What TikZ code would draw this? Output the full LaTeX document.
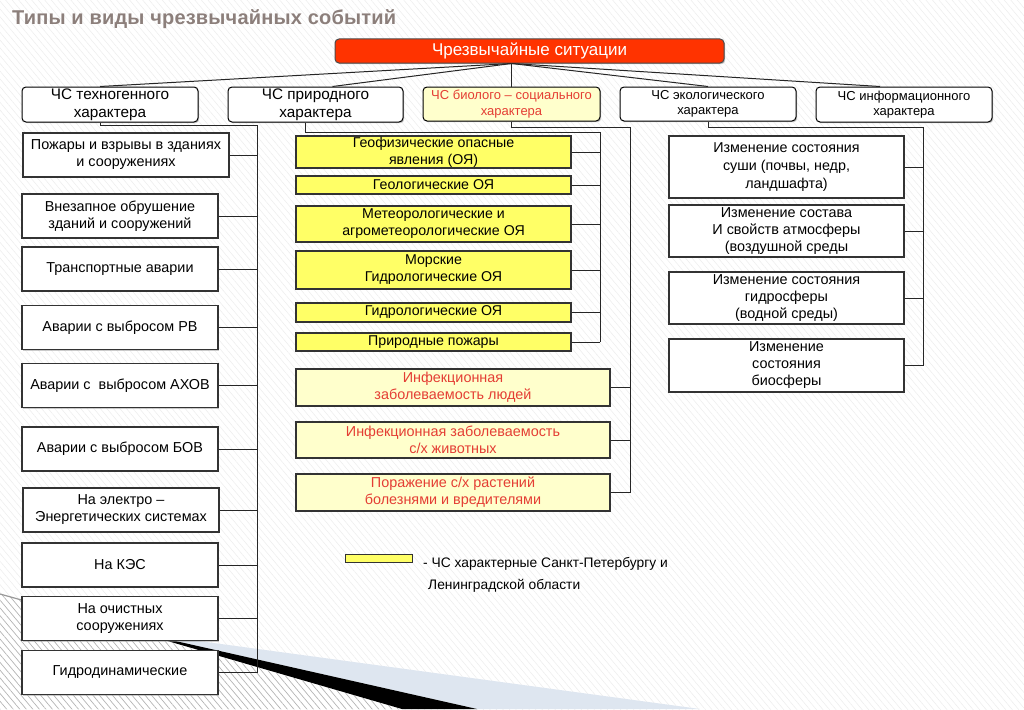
\documentclass[tikz,border=0pt]{standalone}
\usepackage{fontspec}
\setmainfont{Liberation Sans}
\newfontfamily\titlefont{Liberation Sans}[LetterSpace=1]
\usetikzlibrary{shadows,patterns.meta}
\definecolor{chsred}{RGB}{255,51,0}
\definecolor{hotyellow}{RGB}{255,255,102}
\definecolor{paleyellow}{RGB}{255,255,204}
\definecolor{biored}{RGB}{228,62,52}
\definecolor{titlegray}{RGB}{140,127,123}
\definecolor{swooshblue}{RGB}{222,230,240}

\begin{document}
\begin{tikzpicture}[x=1pt,y=-1pt,
	every node/.style={inner sep=0pt, align=center, font=\fontsize{14.4}{17}\selectfont},
	kind/.style={draw=black, fill=white, rounded corners=4pt, line width=1pt, font=\fontsize{15.3}{18}\selectfont,
		drop shadow={shadow xshift=1.2pt, shadow yshift=-1.2pt, fill=black!45}},
	smallkind/.style={kind, font=\fontsize{13}{15.5}\selectfont},
	sub/.style={draw=black!80, fill=white, line width=1.2pt,
		drop shadow={shadow xshift=1.2pt, shadow yshift=-1.2pt, fill=black!40}},
	local/.style={sub, fill=hotyellow, font=\fontsize{14.2}{17}\selectfont},
	bioitem/.style={sub, fill=paleyellow, text=biored},
	link/.style={draw=black!85, line width=1pt}]

	\useasboundingbox (0,0) rectangle (1024,709);
	\fill[white] (0,0) rectangle (1024,709); % slide
	\pattern[pattern={Lines[angle=-50,distance=5pt,line width=0.5pt]}, pattern color=black!7] (0,0) rectangle (1024,709);
	\pattern[pattern={Lines[angle=-50,distance=5pt,line width=0.6pt]}, pattern color=black!30] (0,594) -- (402,709) -- (0,709) -- cycle; % lower corner
	\fill[swooshblue] (140,633) -- (700,709) -- (477,709) -- cycle; % swoosh light
	\fill[black] (140,633) -- (477,709) -- (402,709) -- cycle; % swoosh dark
	\draw[black!40, line width=1.2pt] (0,594) -- (140,633);

	\node[anchor=base west, font=\titlefont\bfseries\fontsize{20}{24}\selectfont, text=titlegray] (title) at (12,25) {Типы и виды чрезвычайных событий};

	% top
	\node[draw=black!70, fill=chsred, rounded corners=4pt, line width=1pt, text=white, minimum width=389pt, minimum height=24pt, font=\fontsize{17}{20}\selectfont,
		drop shadow={shadow xshift=1.2pt, shadow yshift=-1.2pt, fill=black!45}] (chs) at (529.5,51) {Чрезвычайные ситуации};

	% kinds
	\node[kind, minimum width=176pt, minimum height=35pt] (tech) at (110,104.5) {ЧС техногенного\\характера};
	\node[kind, minimum width=175pt, minimum height=35pt] (prir) at (315.5,104.5) {ЧС природного\\характера};
	\node[smallkind, fill=paleyellow, text=biored, minimum width=177pt, minimum height=34pt] (bio) at (511.5,104) {ЧС биолого -- социального\\характера};
	\node[smallkind, minimum width=176pt, minimum height=34pt] (eco) at (708,104) {ЧС экологического\\характера};
	\node[smallkind, minimum width=176pt, minimum height=35pt] (info) at (904,104.5) {ЧС информационного\\характера};

	\coordinate (hub) at (chs.south -| bio.north);
	\draw[link] (hub) -- ([xshift=-10pt]tech.north);
	\draw[link] (hub) -- ([xshift=17pt]prir.north);
	\draw[link] (hub) -- (bio.north);
	\draw[link] (hub) -- (eco.north);
	\draw[link] (hub) -- ([xshift=-24pt]info.north);

	% technogenic
	\node[sub, minimum width=206pt, minimum height=44pt] (tpozh) at (126,155) {Пожары и взрывы в зданиях\\и сооружениях};
	\node[sub, minimum width=196pt, minimum height=44pt] (tobr) at (120,216) {Внезапное обрушение\\зданий и сооружений};
	\node[sub, minimum width=196pt, minimum height=44pt] (ttrans) at (120,269) {Транспортные аварии};
	\node[sub, minimum width=196pt, minimum height=44pt] (trv) at (120,327.5) {Аварии с выбросом РВ};
	\node[sub, minimum width=196pt, minimum height=44pt] (tahov) at (120,385.5) {Аварии с\ \ выбросом АХОВ};
	\node[sub, minimum width=196pt, minimum height=44pt] (tbov) at (120,449) {Аварии с выбросом БОВ};
	\node[sub, minimum width=196pt, minimum height=44pt] (telec) at (121,510) {На электро --\\Энергетических системах};
	\node[sub, minimum width=196pt, minimum height=44pt] (tkes) at (120,565) {На КЭС};
	\node[sub, minimum width=196pt, minimum height=44pt] (tochist) at (120,618.5) {На очистных\\сооружениях};
	\node[sub, minimum width=196pt, minimum height=44pt] (tgidro) at (120,672.5) {Гидродинамические};

	\coordinate (tbus) at (257,125);
	\draw[link] ([xshift=-10pt]tech.south) |- (tbus) -- (tbus |- tgidro.east);
	\foreach \n in {tpozh,tobr,ttrans,trv,tahov,tbov,telec,tkes,tochist,tgidro}
		\draw[link] (\n.east) -- (\n.east -| tbus);

	% natural
	\node[local, minimum width=275pt, minimum height=32pt] (pgeof) at (433.5,152) {Геофизические опасные\\явления (ОЯ)};
	\node[local, minimum width=275pt, minimum height=18pt] (pgeol) at (433.5,185) {Геологические ОЯ};
	\node[local, minimum width=275pt, minimum height=36pt] (pmeteo) at (433.5,224) {Метеорологические и\\агрометеорологические ОЯ};
	\node[local, minimum width=275pt, minimum height=38pt] (pmor) at (433.5,270) {Морские\\Гидрологические ОЯ};
	\node[local, minimum width=275pt, minimum height=19pt] (pgidr) at (433.5,312.5) {Гидрологические ОЯ};
	\node[local, minimum width=275pt, minimum height=18pt] (ppozh) at (433.5,342) {Природные пожары};

	\coordinate (pbus) at (600,132);
	\draw[link] ([xshift=-10pt]prir.south) |- (pbus) -- (pbus |- ppozh.east);
	\foreach \n in {pgeof,pgeol,pmeteo,pmor,pgidr,ppozh}
		\draw[link] (\n.east) -- (\n.east -| pbus);

	% bio-social
	\node[bioitem, minimum width=314pt, minimum height=37pt] (binf) at (453,387.5) {Инфекционная\\заболеваемость людей};
	\node[bioitem, minimum width=314pt, minimum height=36pt] (bzhiv) at (453,440) {Инфекционная заболеваемость\\с/х животных};
	\node[bioitem, minimum width=314pt, minimum height=37pt] (brast) at (453,492.5) {Поражение с/х растений\\болезнями и вредителями};

	\coordinate (bbus) at (630,127);
	\draw[link] (bio.south) |- (bbus) -- (bbus |- brast.east);
	\foreach \n in {binf,bzhiv,brast}
		\draw[link] (\n.east) -- (\n.east -| bbus);

	% ecological
	\node[sub, minimum width=235pt, minimum height=62pt, font=\fontsize{14.3}{18}\selectfont] (esush) at (786.5,167) {Изменение состояния\\суши (почвы, недр,\\ландшафта)};
	\node[sub, minimum width=235pt, minimum height=52pt] (eatm) at (786.5,231) {Изменение состава\\И свойств атмосферы\\(воздушной среды};
	\node[sub, minimum width=235pt, minimum height=52pt] (egidr) at (786.5,298) {Изменение состояния\\гидросферы\\(водной среды)};
	\node[sub, minimum width=235pt, minimum height=53pt] (ebio) at (786.5,365.5) {Изменение\\состояния\\биосферы};

	\coordinate (ebus) at (923,127);
	\draw[link] (eco.south) |- (ebus) -- (ebus |- ebio.east);
	\foreach \n in {esush,eatm,egidr,ebio}
		\draw[link] (\n.east) -- (\n.east -| ebus);

	% legend
	\node[draw=black!80, fill=hotyellow, line width=1pt, minimum width=67pt, minimum height=8pt] (legend) at (378.5,558) {};
	\node[anchor=base west, font=\fontsize{13.8}{16}\selectfont] (legtext) at (423,567) {- ЧС характерные Санкт-Петербургу и};
	\node[anchor=base west, font=\fontsize{13.8}{16}\selectfont] (legtext2) at (428,589) {Ленинградской области};
\end{tikzpicture}
\end{document}
